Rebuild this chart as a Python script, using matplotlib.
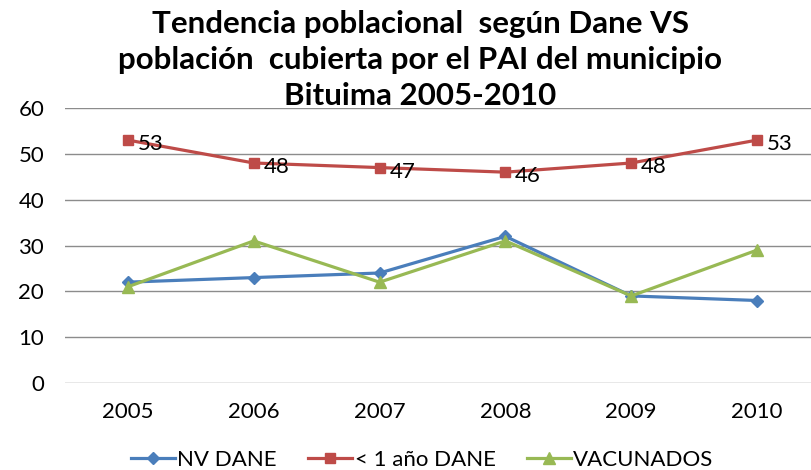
import matplotlib
matplotlib.use("Agg")
import matplotlib.pyplot as plt

plt.rcParams['font.family'] = ['Lato', 'DejaVu Sans']

years = ['2005', '2006', '2007', '2008', '2009', '2010']
nv_dane = [22, 23, 24, 32, 19, 18]
menor_1 = [53, 48, 47, 46, 48, 53]
vacunados = [21, 31, 22, 31, 19, 29]

titulo = "Tendencia poblacional  según Dane VS\npoblación  cubierta por el PAI del municipio\nBituima 2005-2010"

fig = plt.figure(figsize=(8.11, 4.70), dpi=100)
# plot area runs a little past the right edge, like the original crop
ax = fig.add_axes([65 / 811, 1 - 383 / 470, 755 / 811, 275 / 470])

x = range(len(years))
ax.plot(x, nv_dane, color='#4A7EBB', lw=2.3, marker='D', ms=6, label='NV DANE', zorder=3)
ax.plot(x, menor_1, color='#BE4B48', lw=2.3, marker='s', ms=7, label='< 1 año DANE', zorder=3)
ax.plot(x, vacunados, color='#98B954', lw=2.3, marker='^', ms=8, label='VACUNADOS', zorder=3)

for i, v in enumerate(menor_1):
    ax.annotate(str(v), (i, v), xytext=(7, -3), textcoords='offset points',
                ha='left', va='center', fontsize=16)

ax.set_xlim(-0.5, len(years) - 0.5)
ax.set_ylim(0, 60)
ax.set_yticks(range(0, 61, 10))
ax.set_xticks(list(x))
ax.set_xticklabels(years)
ax.tick_params(length=0, labelsize=16, colors='black')
ax.tick_params(axis='y', pad=15)
ax.tick_params(axis='x', pad=14)
ax.grid(axis='y', color='#8c8c8c', lw=1)
ax.set_axisbelow(True)
for s in ax.spines.values():
    s.set_visible(False)

fig.text(420 / 811, 1 - 60 / 470, titulo, ha='center', va='center',
         fontsize=22.5, fontweight='bold', linespacing=1.33)

fig.legend(loc='center', bbox_to_anchor=(422 / 811, 1 - 460 / 470), ncol=3,
           frameon=False, fontsize=16, handlelength=2.0, handletextpad=0.1,
           columnspacing=1.4)

fig.savefig('out.png', dpi=100)
